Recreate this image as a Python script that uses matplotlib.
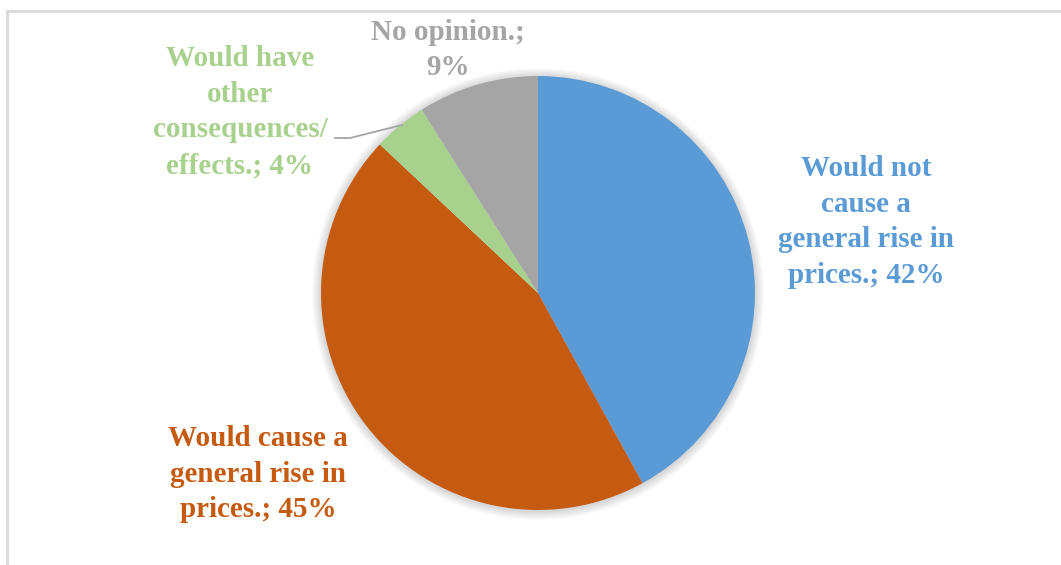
import matplotlib
matplotlib.use("Agg")
import matplotlib.pyplot as plt
from matplotlib.patches import Circle
from matplotlib.lines import Line2D

categories = [
    "Would not\ncause a\ngeneral rise in\nprices.",
    "Would cause a\ngeneral rise in\nprices.",
    "Would have\nother\nconsequences/\neffects.",
    "No opinion.",
]
shares = [42, 45, 4, 9]
colors = ["#5B9BD5", "#C55A11", "#A9D18E", "#A5A5A5"]

W, H = 1061, 565
fig = plt.figure(figsize=(W / 100, H / 100), dpi=100)
ax = fig.add_axes([0, 0, 1, 1])

cx, cy, r = 538, H - 293, 217

# soft shadow around the pie
for i in range(10):
    ax.add_patch(Circle((cx, cy - 1), r + 1 + i * 0.9, color="#000000",
                        alpha=0.015, lw=0, zorder=0))

ax.pie(shares, colors=colors, startangle=90, counterclock=False,
       center=(cx, cy), radius=r, frame=True,
       wedgeprops=dict(linewidth=0, zorder=2))
ax.set_xlim(0, W)
ax.set_ylim(0, H)
ax.set_aspect("equal")
ax.axis("off")

font = dict(family="Liberation Serif", fontweight="bold", fontsize=21,
            ha="center", va="center", linespacing=1.42)

labels = [f"{c}; {v}%" for c, v in zip(categories, shares)]
labels[3] = f"{categories[3]};\n{shares[3]}%"
positions = [(866, 222), (258, 474), (240, 112), (448, 50)]
for text, (x, y), col in zip(labels, positions, colors):
    ax.text(x, H - y, text, color=col, **font)

# leader line for the small slice
ax.add_line(Line2D([335, 350, 402], [H - 138, H - 138, H - 125],
                   color="#A5A5A5", lw=1.3, zorder=3))

# chart frame (top and left edges)
ax.add_line(Line2D([7, W], [H - 11, H - 11], color="#D9D9D9", lw=2))
ax.add_line(Line2D([7, 7], [H - 11, 0], color="#D9D9D9", lw=2))

fig.savefig("out.png", dpi=100, facecolor="white")
